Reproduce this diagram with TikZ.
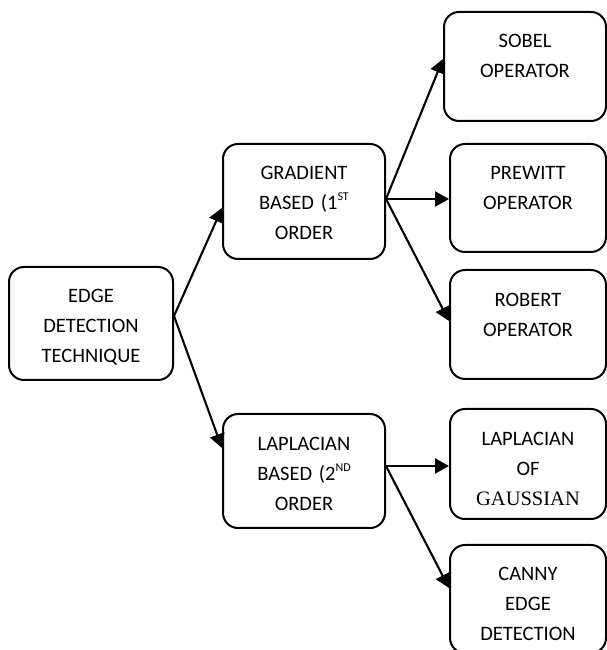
\documentclass[tikz,border=0pt]{standalone}
\usepackage{fontspec}
\setmainfont{Carlito}
\newfontfamily\timesfont{Liberation Serif}
\usetikzlibrary{arrows.meta}
\newcommand{\supr}[1]{\raisebox{9pt}{\fontsize{12}{12}\selectfont #1}}
\begin{document}
\begin{tikzpicture}[x=1pt,y=1pt,
  box/.style={draw, line width=2pt, rounded corners=15pt, inner sep=0pt,
    align=center, anchor=north west, font=\fontsize{20.5}{30}\selectfont},
  conn/.style={line width=2.1pt, -{Triangle[length=14pt,width=15pt]}}]
\useasboundingbox (0,0) rectangle (606,650);
\node[box, text width=164pt, text height=36pt, text depth=77pt] (edge) at (8,384) {EDGE\\DETECTION\\TECHNIQUE};
\node[box, text width=162pt, text height=36pt, text depth=79pt] (grad) at (222,507) {GRADIENT\\BASED (1\supr{ST}\\ORDER};
\node[box, text width=162pt, text height=37pt, text depth=77pt] (lapb) at (222,237) {LAPLACIAN\\BASED (2\supr{ND}\\ORDER};
\node[box, text width=162pt, text height=36pt, text depth=73pt] (sobel) at (443,639) {SOBEL\\OPERATOR};
\node[box, text width=156pt, text height=36pt, text depth=72pt] (prewitt) at (449,507) {PREWITT\\OPERATOR};
\node[box, text width=156pt, text height=37pt, text depth=72pt] (robert) at (449,381) {ROBERT\\OPERATOR};
\node[box, text width=156pt, text height=37pt, text depth=73pt] (log) at (449,242) {LAPLACIAN\\OF\\{\timesfont GAUSSIAN}};
\node[box, text width=156pt, text height=36pt, text depth=72pt] (canny) at (449,106) {CANNY\\EDGE\\DETECTION};
\coordinate (e0) at ([yshift=7.5pt]edge.east);
\coordinate (g0) at ([yshift=2.5pt]grad.east);
\coordinate (l0) at ([yshift=5pt]lapb.east);
\draw[conn] (e0) -- ([yshift=-6.5pt]grad.west);
\draw[conn] (e0) -- ([yshift=23pt]lapb.west);
\draw[conn] (g0) -- ([yshift=7.5pt]sobel.west);
\draw[conn] (g0) -- (g0 -| prewitt.west);
\draw[conn] (g0) -- ([yshift=3.5pt]robert.west);
\draw[conn] (l0) -- (l0 -| log.west);
\draw[conn] (l0) -- ([yshift=11pt]canny.west);
\end{tikzpicture}
\end{document}
